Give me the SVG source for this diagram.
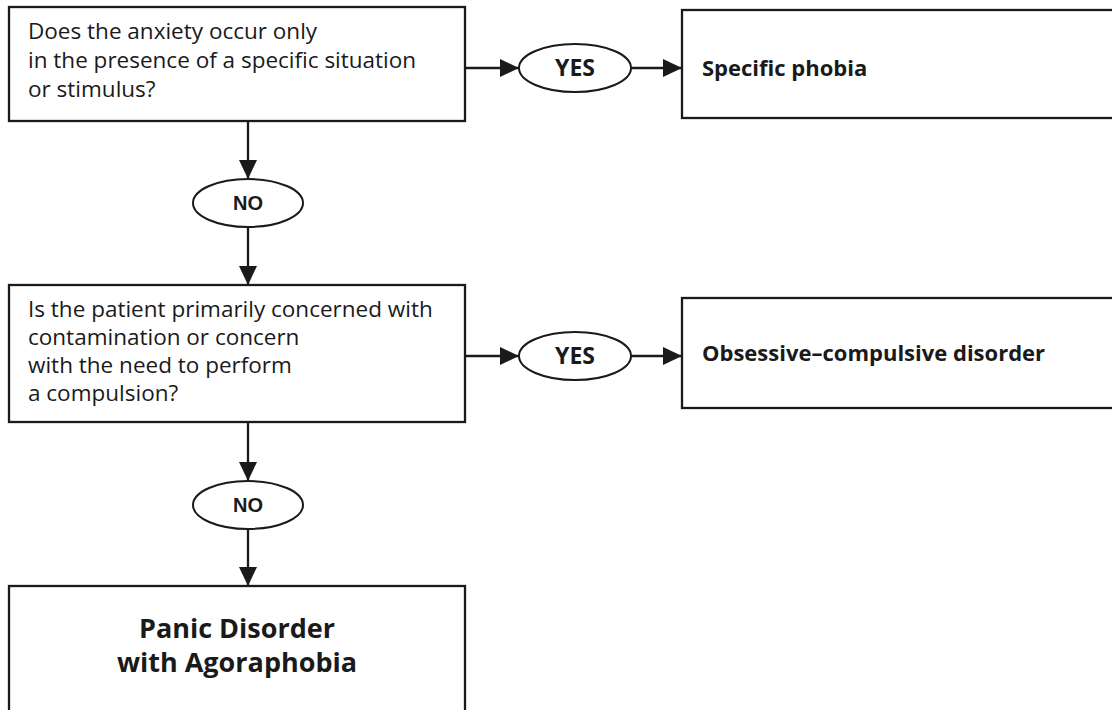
<svg xmlns="http://www.w3.org/2000/svg" width="1112" height="710" viewBox="0 0 1112 710">
<style>
.box{fill:#fff;stroke:#1a1a1a;stroke-width:2.3}
.oval{fill:#fff;stroke:#1a1a1a;stroke-width:2}
.line{stroke:#1a1a1a;stroke-width:2.3;fill:none;marker-end:url(#ah)}
.q{font-family:"Open Sans","Noto Sans",sans-serif;font-size:22.5px;fill:#1a1a1a}
.res{font-family:"Open Sans","Noto Sans",sans-serif;font-size:22px;font-weight:bold;fill:#1a1a1a}
.yes{font-family:"Open Sans","Noto Sans",sans-serif;font-size:23px;font-weight:bold;fill:#1a1a1a;text-anchor:middle}
.no{font-family:"Liberation Sans",Arial,sans-serif;font-size:20px;font-weight:bold;fill:#1a1a1a;text-anchor:middle}
.big{font-family:"Open Sans","Noto Sans",sans-serif;font-size:27px;font-weight:bold;fill:#1a1a1a;text-anchor:middle}
</style>
<defs>
<marker id="ah" markerUnits="userSpaceOnUse" markerWidth="20" markerHeight="20" viewBox="0 0 20 20" refX="19" refY="10" orient="auto">
<path d="M0,1 L19,10 L0,19 Z" fill="#1a1a1a"/>
</marker>
</defs>
<rect width="1112" height="710" fill="#fff"/>
<g id="connectors">
<line class="line" x1="465" y1="68" x2="519" y2="68"/>
<line class="line" x1="631" y1="68" x2="682" y2="68"/>
<line class="line" x1="248" y1="121" x2="248" y2="179"/>
<line class="line" x1="248" y1="227" x2="248" y2="285"/>
<line class="line" x1="465" y1="356" x2="519" y2="356"/>
<line class="line" x1="631" y1="356" x2="682" y2="356"/>
<line class="line" x1="248" y1="422" x2="248" y2="481"/>
<line class="line" x1="248" y1="529" x2="248" y2="586"/>
</g>
<g id="q1">
<rect class="box" x="9" y="7" width="456" height="114"/>
<text class="q" x="28" y="39">Does the anxiety occur only</text>
<text class="q" x="28" y="68">in the presence of a specific situation</text>
<text class="q" x="28" y="97">or stimulus?</text>
</g>
<g id="yes1">
<ellipse class="oval" cx="575" cy="68" rx="56" ry="24"/>
<text class="yes" x="575" y="76">YES</text>
</g>
<g id="phobia">
<rect class="box" x="682" y="10" width="440" height="108"/>
<text class="res" x="702" y="76">Specific phobia</text>
</g>
<g id="no1">
<ellipse class="oval" cx="248" cy="203" rx="55" ry="24"/>
<text class="no" x="248" y="210">NO</text>
</g>
<g id="q2">
<rect class="box" x="9" y="285" width="456" height="137"/>
<text class="q" x="28" y="317">Is the patient primarily concerned with</text>
<text class="q" x="28" y="345">contamination or concern</text>
<text class="q" x="28" y="373">with the need to perform</text>
<text class="q" x="28" y="401">a compulsion?</text>
</g>
<g id="yes2">
<ellipse class="oval" cx="575" cy="356" rx="56" ry="24"/>
<text class="yes" x="575" y="364">YES</text>
</g>
<g id="ocd">
<rect class="box" x="682" y="298" width="440" height="110"/>
<text class="res" x="702" y="361">Obsessive–compulsive disorder</text>
</g>
<g id="no2">
<ellipse class="oval" cx="248" cy="505" rx="55" ry="24"/>
<text class="no" x="248" y="512">NO</text>
</g>
<g id="panic">
<rect class="box" x="9" y="586" width="456" height="140"/>
<text class="big" x="237" y="638">Panic Disorder</text>
<text class="big" x="237" y="672">with Agoraphobia</text>
</g>
</svg>
